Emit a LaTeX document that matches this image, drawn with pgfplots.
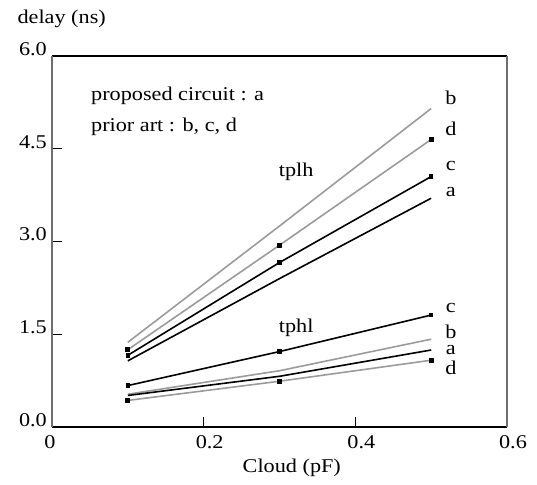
\documentclass[border=0pt]{standalone}
\usepackage{fontspec}
\setmainfont{Liberation Serif}[FakeStretch=1.14]
\usepackage{pgfplots}
\pgfplotsset{compat=1.18}
\newcommand\cf{\fontsize{19.5}{23}\selectfont}
\definecolor{lgray}{RGB}{155,155,155}
\definecolor{axgray}{RGB}{110,110,110}
\begin{document}
\begin{tikzpicture}[font=\cf]
\path[use as bounding box] (-52pt,-57pt) rectangle (485pt,427pt);
\begin{axis}[
  scale only axis, width=455pt, height=371pt,
  xmin=0, xmax=0.6, ymin=0, ymax=6,
  separate axis lines,
  x axis line style={black, line width=1.8pt},
  y axis line style={axgray, line width=1.5pt},
  tick pos=left, tick align=inside,
  major tick length=10pt,
  tick style={black, line width=1.3pt},
  xtick={0,0.2,0.4,0.6},
  xticklabels={\makebox[0pt]{\hspace{-16pt}0},0.2,0.4,0.6},
  ytick={0,1.5,3,4.5,6},
  yticklabels={0.0,1.5,3.0,4.5,6.0},
  tick label style={font=\cf},
  xticklabel style={anchor=north, inner sep=0pt, yshift=-8pt, xshift=6pt},
  yticklabel style={anchor=east, inner sep=0pt, xshift=-5pt, yshift=7pt},
  xlabel={Cloud (pF)},
  xlabel style={font=\cf, at={(rel axis cs:0.527,-0.11)}, anchor=center},
  ylabel={delay (ns)},
  ylabel style={font=\cf, rotate=-90, at={(rel axis cs:-0.0835,1.1)}, anchor=west},
  clip=false,
]
% tplh
\addplot[lgray, line width=1.6pt] coordinates {(0.1,1.37)(0.3,3.25)(0.5,5.15)};
\addplot[lgray, line width=1.6pt, mark=square*, mark size=1.7pt,
  mark options={black, fill=black}] coordinates {(0.1,1.25)(0.3,2.94)(0.5,4.65)};
\addplot[black, line width=1.6pt, mark=square*, mark size=1.5pt]
  coordinates {(0.1,1.16)(0.3,2.66)(0.5,4.05)};
\addplot[black, line width=1.6pt] coordinates {(0.1,1.07)(0.3,2.40)(0.5,3.70)};
% tphl
\addplot[black, line width=1.6pt, mark=square*, mark size=1.5pt]
  coordinates {(0.1,0.67)(0.3,1.22)(0.5,1.81)};
\addplot[lgray, line width=1.6pt] coordinates {(0.1,0.53)(0.3,0.91)(0.5,1.42)};
\addplot[black, line width=1.6pt] coordinates {(0.1,0.51)(0.3,0.82)(0.5,1.245)};
\addplot[lgray, line width=1.6pt, mark=square*, mark size=1.7pt,
  mark options={black, fill=black}] coordinates {(0.1,0.43)(0.3,0.74)(0.5,1.08)};
% annotations
\node[anchor=west] at (axis cs:0.047,5.35) {proposed circuit : a};
\node[anchor=west] at (axis cs:0.047,4.85) {prior art : b, c, d};
\node at (axis cs:0.322,4.12) {tplh};
\node at (axis cs:0.322,1.60) {tphl};
\begin{scope}[every node/.style={inner sep=0pt}]
\node at (axis cs:0.526,5.32) {b};
\node at (axis cs:0.526,4.82) {d};
\node at (axis cs:0.526,4.22) {c};
\node at (axis cs:0.526,3.80) {a};
\node at (axis cs:0.526,1.92) {c};
\node at (axis cs:0.526,1.54) {b};
\node at (axis cs:0.526,1.25) {a};
\node at (axis cs:0.526,0.96) {d};
\end{scope}
\end{axis}
\end{tikzpicture}
\end{document}
